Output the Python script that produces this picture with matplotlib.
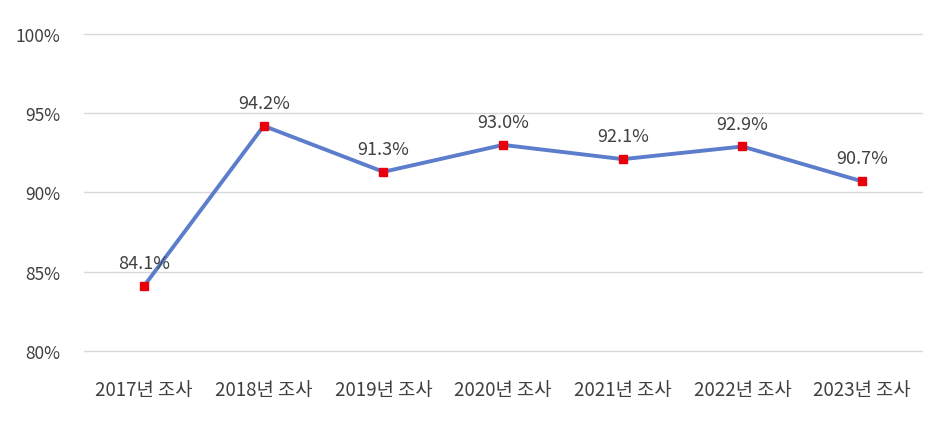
import matplotlib
matplotlib.use("Agg")
import matplotlib.pyplot as plt
from matplotlib.ticker import FuncFormatter

plt.rcParams["font.family"] = ["Noto Sans CJK KR", "DejaVu Sans"]

categories = ["2017년 조사", "2018년 조사", "2019년 조사", "2020년 조사",
              "2021년 조사", "2022년 조사", "2023년 조사"]
values = [84.1, 94.2, 91.3, 93.0, 92.1, 92.9, 90.7]
y_ticks = [80, 85, 90, 95, 100]

text_color = "#404040"

fig = plt.figure(figsize=(9.36, 4.27), dpi=100)
ax = fig.add_axes([0.09, 0.176, 0.895, 0.742])

x = list(range(len(categories)))
ax.plot(x, values, color="#5B7DCB", linewidth=2.8, marker="s", markersize=6,
        markerfacecolor="#E8000B", markeredgecolor="#E8000B", zorder=3)

for xi, v in zip(x, values):
    ax.annotate(f"{v:.1f}%", (xi, v), xytext=(0, 10), textcoords="offset points",
                ha="center", va="bottom", fontsize=13, color=text_color)

ax.set_xlim(-0.5, len(categories) - 0.5)
ax.set_ylim(80, 100)
ax.set_yticks(y_ticks)
ax.yaxis.set_major_formatter(FuncFormatter(lambda v, _: f"{v:.0f}%"))
ax.set_xticks(x)
ax.set_xticklabels(categories)

ax.grid(axis="y", color="#D9D9D9", linewidth=1)
for gl in ax.get_ygridlines():
    gl.set_clip_on(False)
ax.set_axisbelow(True)
for s in ax.spines.values():
    s.set_visible(False)
ax.tick_params(axis="y", length=0, labelsize=12.5, colors=text_color, pad=17)
ax.tick_params(axis="x", length=0, labelsize=13.5, colors=text_color, pad=20)

fig.savefig("out.png", dpi=100)
